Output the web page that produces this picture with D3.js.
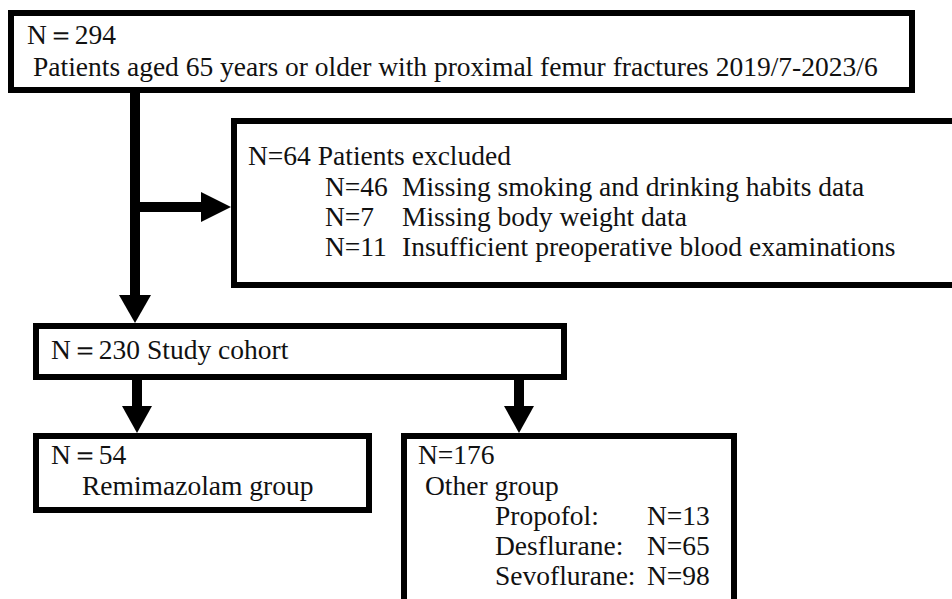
<!DOCTYPE html>
<html lang="en">
<head>
    <meta charset="utf-8">
    <script type="text/javascript" src="https://d3js.org/d3.v7.min.js"></script>
    <style>
        body { margin: 0; background: #fff; }
        text { font-family: "Liberation Serif", "Times New Roman", serif; fill: #111; }
    </style>
</head>

<body>
    <script type="text/javascript">
        // SVG width and height
        let w = 952;
        let h = 599;

        // Data: counts for each step of the flow
        let totalLabel = "N＝294";
        let totalText = "Patients aged 65 years or older with proximal femur fractures 2019/7-2023/6";
        let excludedLabel = "N=64 Patients excluded";
        let excludedCounts = ["N=46", "N=7", "N=11"];
        let excludedReasons = ["Missing smoking and drinking habits data", "Missing body weight data", "Insufficient preoperative blood examinations"];
        let cohortLabel = "N＝230 Study cohort";
        let remiLines = ["N＝54", "Remimazolam group"];
        let otherLines = ["N=176", "Other group"];
        let agentNames = ["Propofol:", "Desflurane:", "Sevoflurane:"];
        let agentCounts = ["N=13", "N=65", "N=98"];

        // Create SVG element
        let svg = d3.select("body").append("svg")
                    .attr("width", w)
                    .attr("height", h);

        // Boxes (outer edges)
        let boxes = [
            {x0: 8, y0: 10, x1: 915, y1: 93},
            {x0: 231, y0: 118, x1: 1000, y1: 288},
            {x0: 33, y0: 323, x1: 567, y1: 380},
            {x0: 33, y0: 433, x1: 372, y1: 513},
            {x0: 401, y0: 433, x1: 737, y1: 640}
        ];
        let sw = 6;

        svg.selectAll("rect.box")
            .data(boxes)
            .join("rect")
                .attr("class", "box")
                .attr("x", d => d.x0 + sw / 2)
                .attr("y", d => d.y0 + sw / 2)
                .attr("width", d => d.x1 - d.x0 - sw)
                .attr("height", d => d.y1 - d.y0 - sw)
                .attr("fill", "#fff")
                .attr("stroke", "#000")
                .attr("stroke-width", sw);

        // Arrows: shaft + triangular head
        let shafts = [
            [135, 93, 135, 297],
            [135, 207, 204, 207],
            [137, 380, 137, 408],
            [519, 380, 519, 408]
        ];
        svg.selectAll("line.shaft")
            .data(shafts)
            .join("line")
                .attr("class", "shaft")
                .attr("x1", d => d[0]).attr("y1", d => d[1])
                .attr("x2", d => d[2]).attr("y2", d => d[3])
                .attr("stroke", "#000")
                .attr("stroke-width", 10);

        let heads = [
            {x: 135, y: 323, dir: "down", len: 28, half: 16},
            {x: 231, y: 207, dir: "right", len: 30, half: 15},
            {x: 137, y: 433, dir: "down", len: 27, half: 15},
            {x: 519, y: 433, dir: "down", len: 27, half: 15}
        ];
        svg.selectAll("path.head")
            .data(heads)
            .join("path")
                .attr("class", "head")
                .attr("d", d => d.dir === "down"
                    ? `M${d.x},${d.y}L${d.x - d.half},${d.y - d.len}L${d.x + d.half},${d.y - d.len}Z`
                    : `M${d.x},${d.y}L${d.x - d.len},${d.y - d.half}L${d.x - d.len},${d.y + d.half}Z`)
                .attr("fill", "#000");

        // Text helper
        let fs = 27.5;
        let addText = function(str, x, y) {
            return svg.append("text")
                .attr("x", x)
                .attr("y", y)
                .attr("font-size", fs)
                .text(str);
        };

        // Top box
        addText(totalLabel, 27, 44);
        addText(totalText, 33, 76);

        // Excluded box
        addText(excludedLabel, 248, 165);
        excludedCounts.forEach((c, i) => addText(c, 325, 196 + i * 30));
        excludedReasons.forEach((r, i) => addText(r, 402, 196 + i * 30));

        // Study cohort
        addText(cohortLabel, 51, 359);

        // Remimazolam group
        addText(remiLines[0], 51, 464);
        addText(remiLines[1], 82, 495);

        // Other group
        addText(otherLines[0], 418, 464);
        addText(otherLines[1], 425, 495);
        agentNames.forEach((a, i) => addText(a, 495, 525 + i * 30));
        agentCounts.forEach((c, i) => addText(c, 647, 525 + i * 30));
    </script>
</body>
</html>
